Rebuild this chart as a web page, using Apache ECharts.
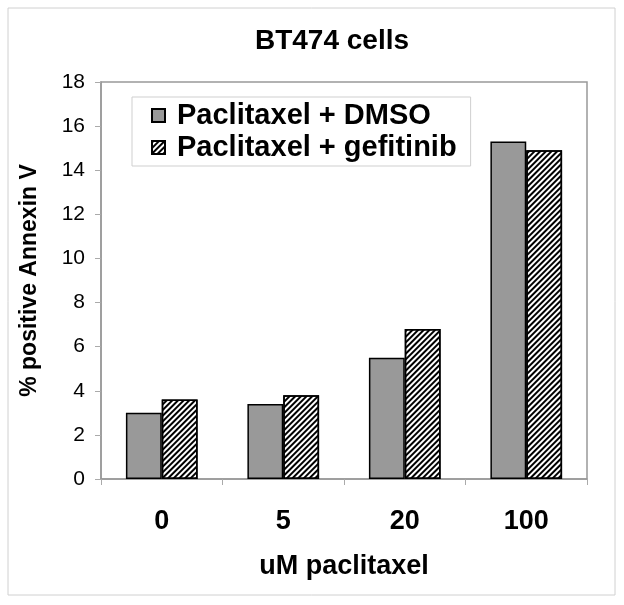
<!DOCTYPE html>
<html>
<head>
<meta charset="utf-8">
<script src="https://cdn.jsdelivr.net/npm/echarts@6/dist/echarts.min.js"></script>
<style>
html,body{margin:0;padding:0;background:#fff;}
#chart{width:624px;height:605px;}
</style>
</head>
<body>
<div id="chart"></div>
<script>
var categories = ['0', '5', '20', '100'];
var dmsoValues = [3.0, 3.4, 5.5, 15.3];
var gefitinibValues = [3.6, 3.8, 6.8, 14.9];
var seriesNames = ['Paclitaxel + DMSO', 'Paclitaxel + gefitinib'];
var yTicks = {min: 0, max: 18, interval: 2};

var chart = echarts.init(document.getElementById('chart'));
var FONT = '"Liberation Sans", Arial, sans-serif';
chart.setOption({
  animation: false,
  backgroundColor: '#fff',
  title: {
    text: 'BT474 cells',
    left: 327, top: 22,
    textAlign: 'center',
    textStyle: {fontFamily: FONT, fontSize: 28, fontWeight: 'bold', color: '#000'}
  },
  graphic: [{
    type: 'rect',
    shape: {x: 8, y: 8, width: 607, height: 587},
    style: {fill: 'none', stroke: '#d0d0d0', lineWidth: 1},
    silent: true, z: -1
  }],
  legend: {
    orient: 'vertical',
    left: 132, top: 97,
    padding: [4, 14, 4, 19],
    itemWidth: 13, itemHeight: 13, itemGap: 3,
    borderColor: '#cfcfcf', borderWidth: 1,
    icon: 'rect',
    data: seriesNames,
    textStyle: {fontFamily: FONT, fontSize: 29, fontWeight: 'bold', color: '#000', padding: [0, 0, 0, 7]}
  },
  grid: {
    left: 101, top: 82, right: 37, bottom: 126,
    show: true, borderColor: '#999', borderWidth: 1.5, backgroundColor: 'transparent'
  },
  xAxis: {
    type: 'category',
    data: categories,
    name: 'uM paclitaxel',
    nameLocation: 'middle',
    nameGap: 74,
    nameTextStyle: {fontFamily: FONT, fontSize: 27, fontWeight: 'bold', color: '#000'},
    axisLine: {lineStyle: {color: '#999', width: 1.5}},
    axisTick: {show: true, inside: false, length: 6, lineStyle: {color: '#aaa'}},
    axisLabel: {fontFamily: FONT, fontSize: 27, fontWeight: 'bold', color: '#000', margin: 29}
  },
  yAxis: {
    type: 'value',
    min: yTicks.min, max: yTicks.max, interval: yTicks.interval,
    name: '% positive Annexin V',
    nameLocation: 'middle',
    nameRotate: 90,
    nameGap: 60,
    nameTextStyle: {fontFamily: FONT, fontSize: 23, fontWeight: 'bold', color: '#000'},
    axisLine: {show: true, lineStyle: {color: '#999', width: 1.5}},
    axisTick: {show: true, inside: false, length: 6, lineStyle: {color: '#aaa'}},
    splitLine: {show: false},
    axisLabel: {fontFamily: FONT, fontSize: 21, color: '#000', margin: 16}
  },
  series: [{
    name: seriesNames[0],
    type: 'bar',
    data: dmsoValues,
    barGap: '0%',
    barCategoryGap: '41%',
    itemStyle: {color: '#999999', borderColor: '#000', borderWidth: 1.5}
  }, {
    name: seriesNames[1],
    type: 'bar',
    data: gefitinibValues,
    barGap: '0%',
    barCategoryGap: '41%',
    itemStyle: {
      color: '#ffffff', borderColor: '#000', borderWidth: 1.5,
      decal: {
        symbol: 'rect', symbolSize: 1, color: '#000',
        dashArrayX: [1, 0], dashArrayY: [1.8, 1.8],
        rotation: -Math.PI / 4
      }
    }
  }]
});
</script>
</body>
</html>
